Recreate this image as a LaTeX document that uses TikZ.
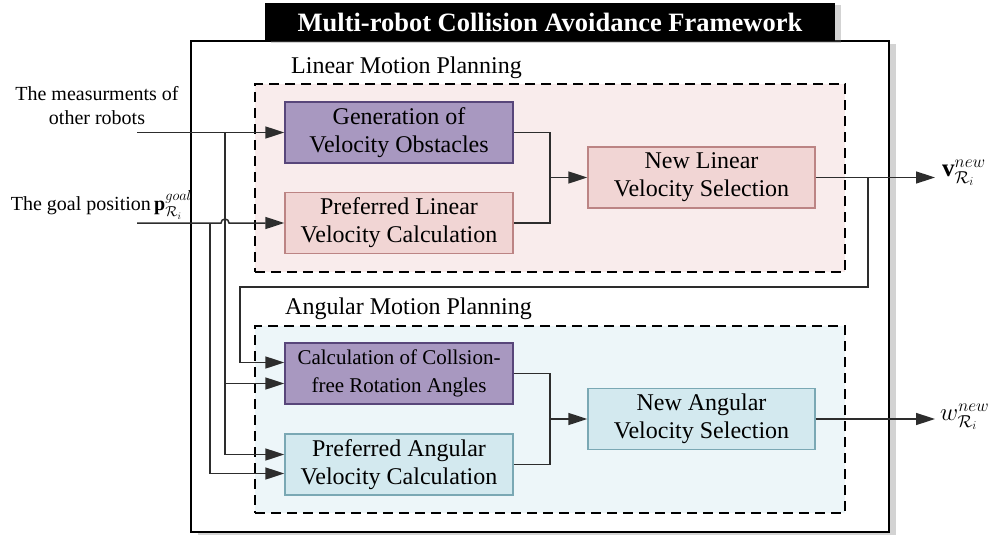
\documentclass[tikz,border=0pt]{standalone}
\usepackage{fontspec}
\setmainfont{Liberation Serif}
\usepackage{amsmath}
\usetikzlibrary{arrows.meta,positioning,shadows}
\definecolor{vioFill}{RGB}{168,152,192}
\definecolor{vioLine}{RGB}{88,70,122}
\definecolor{roseFill}{RGB}{241,213,212}
\definecolor{roseLine}{RGB}{188,132,132}
\definecolor{roseBg}{RGB}{249,236,236}
\definecolor{iceBg}{RGB}{237,246,249}
\definecolor{iceFill}{RGB}{211,233,239}
\definecolor{iceLine}{RGB}{122,168,180}
\definecolor{wire}{RGB}{45,45,45}
\tikzset{
  blockv/.style={draw=vioLine,fill=vioFill,line width=1.4pt,minimum width=228pt,minimum height=61pt,align=center,font=\fontsize{24}{28}\selectfont},
  blockr/.style={blockv,draw=roseLine,fill=roseFill},
  blocki/.style={blockv,draw=iceLine,fill=iceFill},
  planbox/.style={draw,line width=1.6pt,dash pattern=on 10pt off 6pt,minimum width=590pt,inner sep=0pt},
  planlabel/.style={anchor=south west,inner sep=0pt,font=\fontsize{24}{28}\selectfont},
  sigArrow/.style={-{Triangle[length=19pt,width=12pt]},draw=wire,line width=1.5pt},
  sigLine/.style={draw=wire,line width=1.5pt},
  inlabel/.style={align=center,inner sep=0pt,font=\fontsize{20}{24}\selectfont},
  outlabel/.style={anchor=west,inner sep=0pt,font=\fontsize{25}{28}\selectfont}
}
\begin{document}
\begin{tikzpicture}[x=1pt,y=-1pt]
  \useasboundingbox (0,0) rectangle (1001,535);
  % outer frame and title
  \node[draw,line width=1.8pt,fill=white,minimum width=698pt,minimum height=491pt,inner sep=0pt,
    drop shadow={shadow xshift=7pt,shadow yshift=-3pt,opacity=0.35}] (frame) at (540,286.5) {};
  \node[fill=black,text=white,minimum width=570pt,minimum height=38pt,inner sep=0pt,
    font=\bfseries\fontsize{26.5}{28}\selectfont,
    drop shadow={shadow xshift=6pt,shadow yshift=-2pt,opacity=0.35}] (title) at (550,22) {Multi-robot Collision Avoidance Framework};
  % planning groups
  \node[planbox,fill=roseBg,minimum height=188pt] (linGrp) at (550,178) {};
  \node[planbox,fill=iceBg,minimum height=187pt] (angGrp) at (550,419.5) {};
  \node[planlabel] (linLab) at (291,79) {Linear Motion Planning};
  \node[planlabel] (angLab) at (285,320) {Angular Motion Planning};
  % blocks
  \node[blockv] (genVO) at (399,132.5) {Generation of\\Velocity Obstacles};
  \node[blockr] (prefLin) at (399,223) {Preferred Linear\\Velocity Calculation};
  \node[blockr,minimum width=227pt] (newLin) at (701.5,177.5) {New Linear\\Velocity Selection};
  \node[blockv,font=\fontsize{21}{28}\selectfont] (rotAng) at (399,373.5) {Calculation of Collsion-\\free Rotation Angles};
  \node[blocki] (prefAng) at (399,464.5) {Preferred Angular\\Velocity Calculation};
  \node[blocki,minimum width=227pt] (newAng) at (701.5,419) {New Angular\\Velocity Selection};
  % inputs and outputs
  \coordinate (measIn) at (137,132.5);
  \coordinate (goalIn) at (137,223);
  \coordinate (measJ) at (225,132.5);
  \coordinate (goalJ) at (210,223);
  \coordinate (linM) at (550,177.5);
  \coordinate (angM) at (550,419);
  \coordinate (vJ) at (868,177.5);
  \coordinate (fbC) at (240,287);
  \coordinate (vOut) at (935,177.5);
  \coordinate (wOut) at (935,419);
  \node[inlabel] (measLab) at (97,106) {The measurments of\\other robots};
  \node[inlabel,anchor=east] (goalLab) at (192,205) {The goal position\,$\mathbf{p}^{goal}_{\mathcal{R}_i}$};
  \node[outlabel] (vLab) at (942,173) {$\mathbf{v}^{new}_{\mathcal{R}_i}$};
  \node[outlabel] (wLab) at (940,417) {$w^{new}_{\mathcal{R}_i}$};
  % wiring
  \draw[sigArrow] (measIn) -- (genVO.west);
  \draw[sigLine] (measJ) -- (measJ |- goalIn);
  \draw[sigArrow] (measJ |- goalIn) |- ([yshift=-10pt]rotAng.west);
  \draw[sigArrow] (measJ |- goalIn) |- ([yshift=10pt]prefAng.west);
  \draw[sigArrow] (goalIn) -- ([xshift=-4pt]measJ |- goalIn) arc[start angle=180,end angle=0,radius=4pt] -- (prefLin.west);
  \draw[sigArrow] (goalJ) |- ([yshift=-9pt]prefAng.west);
  \draw[sigLine] (genVO.east) -| (linM) |- (prefLin.east);
  \draw[sigArrow] (linM) -- (newLin.west);
  \draw[sigLine] (rotAng.east) -| (angM) |- (prefAng.east);
  \draw[sigArrow] (angM) -- (newAng.west);
  \draw[sigArrow] (newLin.east) -- (vOut);
  \draw[sigArrow] (newAng.east) -- (wOut);
  \draw[sigArrow] (vJ) -- (vJ |- fbC) -- (fbC) |- ([yshift=11pt]rotAng.west);
\end{tikzpicture}
\end{document}
